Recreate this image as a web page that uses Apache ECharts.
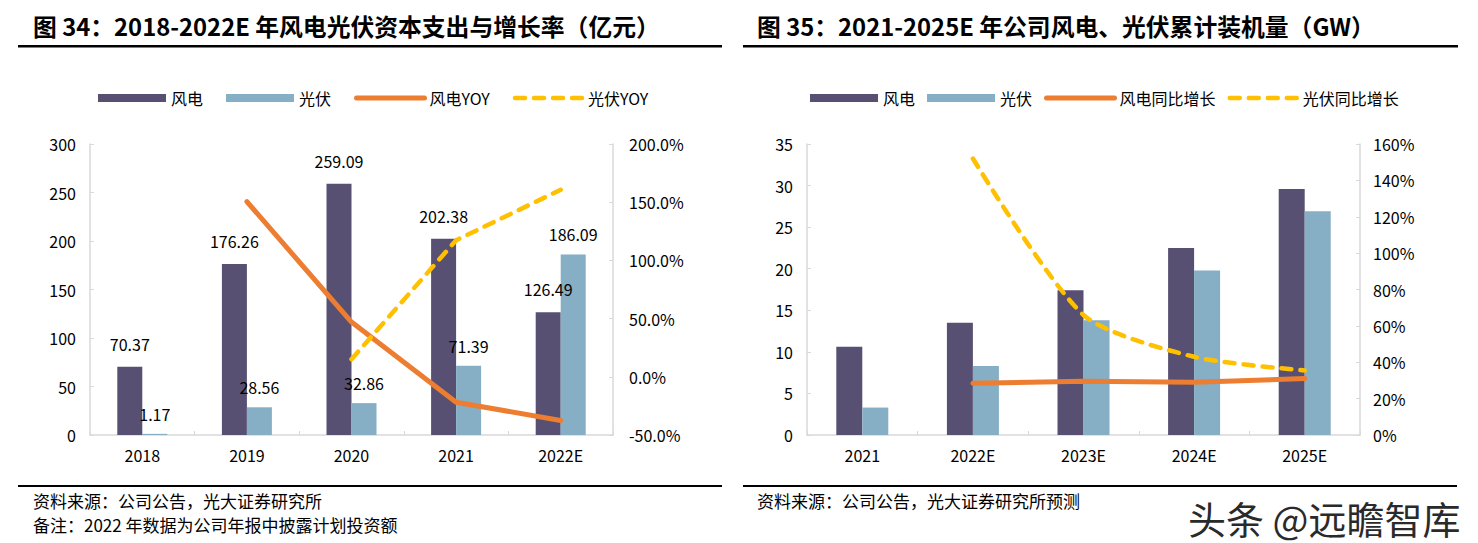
<!DOCTYPE html>
<html>
<head>
<meta charset="utf-8">
<script src="https://cdn.jsdelivr.net/npm/echarts@6/dist/echarts.min.js"></script>
<style>
html,body{margin:0;padding:0;background:#fff;}
#c{width:1478px;height:543px;}
</style>
</head>
<body>
<div id="c"></div>
<script>
// ---- data (left chart) ----
const leftCategories = ['2018', '2019', '2020', '2021', '2022E'];
const leftWind = [70.37, 176.26, 259.09, 202.38, 126.49];
const leftSolar = [1.17, 28.56, 32.86, 71.39, 186.09];
const leftWindYoy = [null, 150.5, 47.0, -21.9, -37.5];
const leftSolarYoy = [null, null, 15.1, 117.3, 160.7];
const leftYTicks = [0, 50, 100, 150, 200, 250, 300];
const leftY2Ticks = [-50, 0, 50, 100, 150, 200];
// ---- data (right chart) ----
const rightCategories = ['2021', '2022E', '2023E', '2024E', '2025E'];
const rightWind = [10.6, 13.5, 17.4, 22.5, 29.6];
const rightSolar = [3.3, 8.3, 13.8, 19.8, 26.9];
const rightWindGrowth = [null, 28.5, 29.5, 29.0, 31.0];
const rightSolarGrowth = [null, 152, 66, 43, 35.5];
const rightYTicks = [0, 5, 10, 15, 20, 25, 30, 35];
const rightY2Ticks = [0, 20, 40, 60, 80, 100, 120, 140, 160];
// ---- text ----
const title1 = '图 34：2018-2022E 年风电光伏资本支出与增长率（亿元）';
const title2 = '图 35：2021-2025E 年公司风电、光伏累计装机量（GW）';
const source1 = '资料来源：公司公告，光大证券研究所';
const note1 = '备注：2022 年数据为公司年报中披露计划投资额';
const source2 = '资料来源：公司公告，光大证券研究所预测';
const watermark = '头条 @远瞻智库';

const FONT = '"Noto Sans CJK SC", "Noto Sans", sans-serif';
const C_WIND = '#575072', C_SOLAR = '#86aec4', C_ORANGE = '#ed7d31', C_YELLOW = '#ffc000';
const AXIS_GRAY = '#d9d9d9';

function axisFrom(ticks) {
  return {min: ticks[0], max: ticks[ticks.length - 1], interval: ticks[1] - ticks[0]};
}

function catAxis(gi, cats) {
  return {
    type: 'category', gridIndex: gi, data: cats,
    axisLine: {lineStyle: {color: AXIS_GRAY, width: 1.5}},
    axisTick: {show: true, inside: true, length: 4, lineStyle: {color: AXIS_GRAY}},
    axisLabel: {color: '#000', fontSize: 16, fontFamily: FONT, margin: 12}
  };
}
function valAxis(gi, ticks, pos, fmt, margin) {
  return Object.assign({
    type: 'value', gridIndex: gi, position: pos,
    axisLine: {show: true, lineStyle: {color: AXIS_GRAY, width: 1.5}},
    axisTick: {show: true, inside: true, length: 4, lineStyle: {color: AXIS_GRAY}},
    splitLine: {show: false},
    axisLabel: {color: '#000', fontSize: 16, fontFamily: FONT, margin: margin, formatter: fmt}
  }, axisFrom(ticks));
}

const labelStyle = (dist) => ({show: true, position: 'top', distance: dist, color: '#000', fontSize: 16, fontFamily: FONT});

const legendBase = {
  itemWidth: 68, itemHeight: 8, top: 85,
  textStyle: {color: '#000', fontSize: 16, fontFamily: FONT},
  lineStyle: {width: 'inherit'}
};
const lineLegendItem = (name) => ({name: name, itemStyle: {opacity: 0, color: 'rgba(0,0,0,0)', borderWidth: 0}});

const option = {
  animation: false,
  backgroundColor: '#fff',
  grid: [
    {left: 90, top: 144, width: 523, height: 291},
    {left: 807, top: 144, width: 553, height: 291}
  ],
  legend: [
    Object.assign({}, legendBase, {left: 93, itemGap: 23,
      data: [{name: '风电', icon: 'rect'}, {name: '光伏', icon: 'rect'}, lineLegendItem('风电YOY'), lineLegendItem('光伏YOY')]}),
    Object.assign({}, legendBase, {left: 805, itemGap: 12,
      data: [{name: '风电', icon: 'rect'}, {name: '光伏', icon: 'rect'}, lineLegendItem('风电同比增长'), lineLegendItem('光伏同比增长')]})
  ],
  xAxis: [catAxis(0, leftCategories), catAxis(1, rightCategories)],
  yAxis: [
    valAxis(0, leftYTicks, 'left', '{value}', 14),
    valAxis(0, leftY2Ticks, 'right', v => v.toFixed(1) + '%', 16),
    valAxis(1, rightYTicks, 'left', '{value}', 14),
    valAxis(1, rightY2Ticks, 'right', '{value}%', 13)
  ],
  series: [
    {name: '风电', type: 'bar', xAxisIndex: 0, yAxisIndex: 0, data: leftWind, barWidth: 25, barGap: '0%',
      itemStyle: {color: C_WIND}, label: labelStyle(15)},
    {name: '光伏', type: 'bar', xAxisIndex: 0, yAxisIndex: 0, data: leftSolar, barWidth: 25, barGap: '0%',
      itemStyle: {color: C_SOLAR}, label: labelStyle(12)},
    {name: '风电YOY', type: 'line', xAxisIndex: 0, yAxisIndex: 1, data: leftWindYoy, symbol: 'none', z: 5,
      itemStyle: {color: C_ORANGE}, lineStyle: {color: C_ORANGE, width: 5, cap: 'round', join: 'round'}},
    {name: '光伏YOY', type: 'line', xAxisIndex: 0, yAxisIndex: 1, data: leftSolarYoy, symbol: 'none', z: 5,
      itemStyle: {color: C_YELLOW}, lineStyle: {color: C_YELLOW, width: 4.5, type: [10, 9], cap: 'round', join: 'round'}},
    {name: '风电', type: 'bar', xAxisIndex: 1, yAxisIndex: 2, data: rightWind, barWidth: 26, barGap: '0%',
      itemStyle: {color: C_WIND}},
    {name: '光伏', type: 'bar', xAxisIndex: 1, yAxisIndex: 2, data: rightSolar, barWidth: 26, barGap: '0%',
      itemStyle: {color: C_SOLAR}},
    {name: '风电同比增长', type: 'line', xAxisIndex: 1, yAxisIndex: 3, data: rightWindGrowth, symbol: 'none', z: 5,
      itemStyle: {color: C_ORANGE}, lineStyle: {color: C_ORANGE, width: 5, cap: 'round', join: 'round'}},
    {name: '光伏同比增长', type: 'line', xAxisIndex: 1, yAxisIndex: 3, data: rightSolarGrowth, symbol: 'none', z: 5, smooth: 0.25,
      itemStyle: {color: C_YELLOW}, lineStyle: {color: C_YELLOW, width: 4.5, type: [10, 9], cap: 'round', join: 'round'}}
  ],
  graphic: [
    {type: 'text', x: 33, y: 25, style: {text: title1, font: 'bold 23.8px ' + FONT, fill: '#000', verticalAlign: 'middle'}},
    {type: 'text', x: 757, y: 25, style: {text: title2, font: 'bold 23.8px ' + FONT, fill: '#000', verticalAlign: 'middle'}},
    {type: 'rect', shape: {x: 18, y: 45, width: 704, height: 2.5}, style: {fill: '#000'}},
    {type: 'rect', shape: {x: 743, y: 45, width: 715, height: 2.5}, style: {fill: '#000'}},
    {type: 'rect', shape: {x: 18, y: 485, width: 704, height: 2}, style: {fill: '#000'}},
    {type: 'rect', shape: {x: 743, y: 485, width: 714, height: 2}, style: {fill: '#000'}},
    {type: 'text', x: 33, y: 500, style: {text: source1, font: '17px ' + FONT, fill: '#000', verticalAlign: 'middle'}},
    {type: 'text', x: 33, y: 524, style: {text: note1, font: '17px ' + FONT, fill: '#000', verticalAlign: 'middle'}},
    {type: 'text', x: 757, y: 500, style: {text: source2, font: '17px ' + FONT, fill: '#000', verticalAlign: 'middle'}},
    {type: 'text', x: 1188, y: 517, style: {text: watermark, font: '38px ' + FONT, fill: '#2a2a2a',
      stroke: '#ffffff', lineWidth: 1, shadowColor: 'rgba(0,0,0,0.35)', shadowBlur: 2, shadowOffsetX: 1, shadowOffsetY: 1, verticalAlign: 'middle'}}
  ]
};

const chart = echarts.init(document.getElementById('c'), null, {renderer: 'svg'});
chart.setOption(option);
</script>
</body>
</html>
